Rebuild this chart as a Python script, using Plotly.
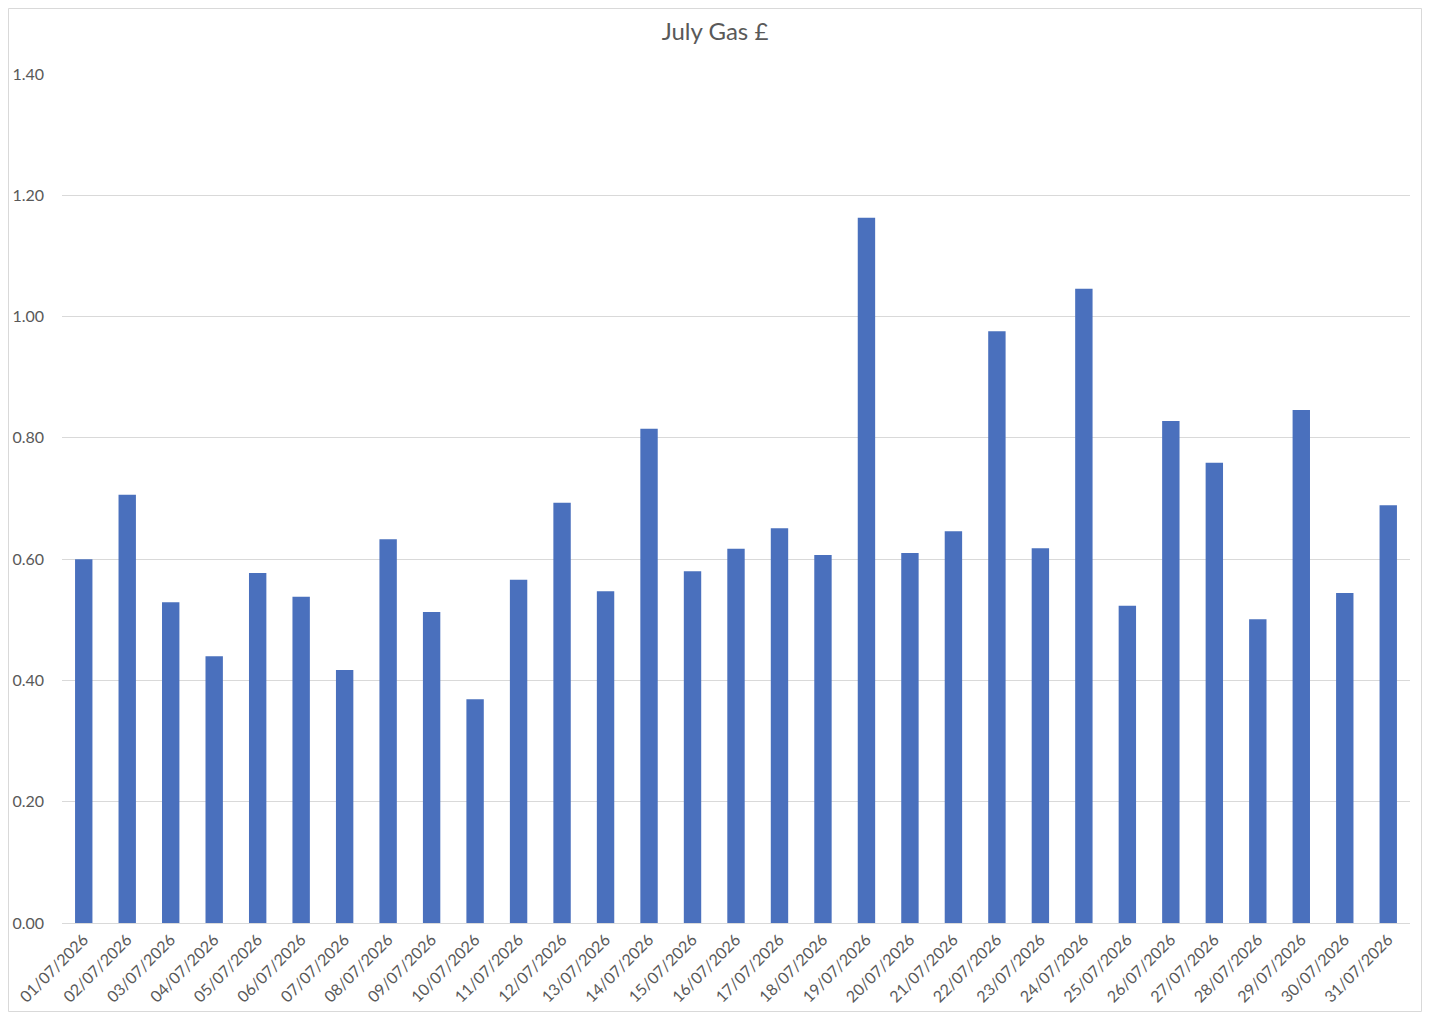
import plotly.graph_objects as go

# Daily gas cost for July
dates = [f"{d:02d}/07/2026" for d in range(1, 32)]
costs = [0.60, 0.706, 0.529, 0.440, 0.577, 0.538, 0.417, 0.633, 0.513, 0.369,
         0.566, 0.693, 0.547, 0.815, 0.580, 0.617, 0.651, 0.607, 1.163, 0.610,
         0.646, 0.976, 0.618, 1.046, 0.523, 0.828, 0.759, 0.501, 0.846, 0.544,
         0.689]
y_ticks = [0, 0.2, 0.4, 0.6, 0.8, 1.0, 1.2, 1.4]

# the page body adds an 8px margin, so the figure is a bit smaller than the window
W, H = 1414, 1004
L, R, T, B = 54, 12, 66, 89
pw, ph = W - L - R, H - T - B

fig = go.Figure(go.Bar(x=dates, y=costs, marker=dict(color="#4a70bd", line=dict(width=0))))

fig.update_layout(
    title=dict(text="July Gas £", x=0.5, xanchor="center", y=1 - 24 / H, yanchor="middle",
               font=dict(size=24, color="#595959", family="Lato")),
    width=W, height=H,
    margin=dict(l=L, r=R, t=T, b=B),
    plot_bgcolor="white", paper_bgcolor="white",
    bargap=0.6,
    showlegend=False,
    font=dict(family="Lato", color="#595959", size=16),
    shapes=[dict(type="rect", xref="paper", yref="paper",
                 x0=-(L - 0.5) / pw, x1=1 + (R - 0.5) / pw,
                 y0=-(B - 0.5) / ph, y1=1 + (T - 0.5) / ph,
                 line=dict(color="#d9d9d9", width=1))],
)
fig.update_xaxes(tickangle=-45, showgrid=False, showline=True, linecolor="#d9d9d9",
                 linewidth=1, ticks="", automargin=False,
                 tickfont=dict(size=16, color="#595959"))
fig.update_yaxes(range=[0, 1.4], tickvals=y_ticks, tickformat=".2f", showgrid=True,
                 gridcolor="#d9d9d9", gridwidth=1, zeroline=False, showline=False,
                 ticks="", automargin=False, ticklabelstandoff=17,
                 tickfont=dict(size=16, color="#595959"))

fig.write_html("out.html")
